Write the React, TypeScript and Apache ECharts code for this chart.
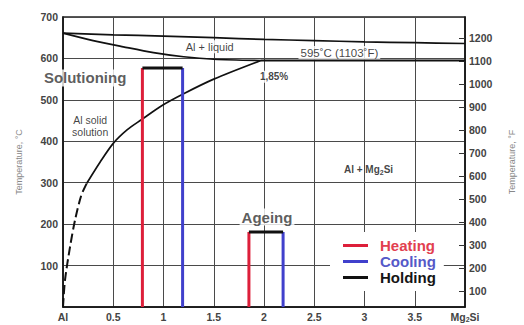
import React, { useEffect, useRef } from 'react';
import * as echarts from 'echarts';

const FONT = "'Liberation Sans', Arial, sans-serif";

// Axis tick labels
const xTickNames = ['Al', '0.5', '1', '1.5', '2', '2.5', '3', '3.5', 'Mg{s|2}Si'];
const tempFTicks = [100, 200, 300, 400, 500, 600, 700, 800, 900, 1000, 1100, 1200];

// Phase boundaries (x = % Mg2Si, T = °C)
const liquidusX = [0, 0.5, 1, 1.5, 2, 2.5, 3, 3.5, 4];
const liquidusT = [661, 657, 654, 650, 646, 643, 640, 638, 636];
const solidusX = [0, 0.3, 0.6, 0.9, 1.2, 1.5, 1.97];
const solidusT = [661, 643, 628, 614, 604, 598, 595];
const eutecticX = [1.97, 4];
const eutecticT = [595, 595];
// solvus: solid part (upper) and dashed part (lower)
const solvusX = [0.235, 0.37, 0.5, 0.64, 0.78, 0.99, 1.21, 1.5, 1.97];
const solvusT = [298, 350, 395, 428, 452, 487, 516, 550, 595];
const solvusDashX = [0, 0.02, 0.07, 0.12, 0.18, 0.235];
const solvusDashT = [0, 65, 145, 210, 268, 298];

// Heat-treatment steps
const solutionHeatX = 0.79;
const solutionCoolX = 1.19;
const solutionHoldT = 577;
const ageingHeatX = 1.85;
const ageingCoolX = 2.19;
const ageingHoldT = 181;

const RED = '#dd1f3a';
const BLUE = '#4040cc';

const notes = [
  { text: 'Al + liquid', x: 1.46, y: 628, size: 11, weight: 'normal', bg: true },
  { text: '595˚C (1103˚F)', x: 2.75, y: 613, size: 11.5, weight: 'normal', bg: true },
  { text: '1,85%', x: 2.1, y: 556, size: 10, weight: 'bold', bg: true },
  { text: 'Solutioning', x: 0.22, y: 553, size: 15, weight: 'bold', bg: true },
  { text: 'Al solid', x: 0.27, y: 452, size: 10.5, weight: 'normal', bg: false },
  { text: 'solution', x: 0.27, y: 423, size: 10.5, weight: 'normal', bg: false },
  { text: 'Al + Mg{s|2}Si', x: 3.04, y: 331, size: 10, weight: 'bold', bg: false },
  { text: 'Ageing', x: 2.03, y: 217, size: 15, weight: 'bold', bg: true },
];

const pts = (xs: number[], ts: number[]) => xs.map((x, i) => [x, ts[i]]);

const phaseLine = (xs: number[], ts: number[], extra: any = {}) => ({
  type: 'line',
  data: pts(xs, ts),
  smooth: extra.smooth !== undefined ? extra.smooth : 0.3,
  symbol: 'none',
  silent: true,
  z: 3,
  lineStyle: { color: '#111', width: 1.7, ...(extra.lineStyle || {}) },
});

const stepLine = (name: string, color: string, data: number[][]) => ({
  type: 'line',
  name,
  data,
  symbol: 'none',
  silent: true,
  z: 4,
  itemStyle: { color },
  lineStyle: { color, width: 3 },
});

export default function App() {
  const ref = useRef<HTMLDivElement>(null);

  useEffect(() => {
    document.body.style.margin = '0';
    if (!ref.current) return;
    const chart = echarts.init(ref.current, undefined, { renderer: 'svg' });

    const option: any = {
      animation: false,
      textStyle: { fontFamily: FONT },
      grid: {
        left: 63,
        right: 57,
        top: 17,
        bottom: 18,
        show: true,
        borderColor: '#222',
        borderWidth: 1.5,
      },
      legend: {
        data: [
          { name: 'Heating', textStyle: { color: '#e2404f' } },
          { name: 'Cooling', textStyle: { color: '#5559c8' } },
          { name: 'Holding', textStyle: { color: '#151515' } },
        ],
        orient: 'vertical',
        left: 330,
        top: 232,
        padding: [6, 8, 6, 13],
        backgroundColor: '#fff',
        icon: 'rect',
        itemWidth: 25,
        itemHeight: 3,
        itemGap: 1,
        selectedMode: false,
        textStyle: {
          fontSize: 15,
          fontWeight: 'bold',
          fontFamily: FONT,
          lineHeight: 15,
          padding: [0, 0, 0, 7],
        },
      },
      xAxis: {
        type: 'value',
        min: 0,
        max: 4,
        interval: 0.5,
        axisLine: { lineStyle: { color: '#111', width: 1.5 } },
        axisTick: { show: false },
        splitLine: { show: true, lineStyle: { color: '#4a4a4a', width: 1 } },
        axisLabel: {
          fontSize: 10.5,
          fontWeight: 'bold',
          color: '#444',
          margin: 4,
          formatter: (v: number) => xTickNames[Math.round(v * 2)] ?? '',
          rich: { s: { fontSize: 7, fontWeight: 'bold', color: '#444', padding: [5, 0, 0, 0] } },
        },
      },
      yAxis: [
        {
          type: 'value',
          min: 0,
          max: 700,
          interval: 100,
          name: 'Temperature, °C',
          nameLocation: 'middle',
          nameGap: 40,
          nameTextStyle: { fontSize: 9, color: '#888', fontFamily: FONT },
          axisLine: { show: true, lineStyle: { color: '#111', width: 1.5 } },
          axisTick: { show: false },
          splitLine: { show: true, lineStyle: { color: '#4a4a4a', width: 1 } },
          axisLabel: {
            fontSize: 10.5,
            fontWeight: 'bold',
            color: '#444',
            margin: 5,
            formatter: (v: number) => (v === 0 ? '' : String(v)),
          },
        },
        {
          type: 'value',
          position: 'right',
          min: 32,
          max: 1292,
          name: 'Temperature, °F',
          nameLocation: 'middle',
          nameGap: 42,
          nameTextStyle: { fontSize: 9, color: '#888', fontFamily: FONT },
          axisLine: { show: true, lineStyle: { color: '#111', width: 1.5 } },
          axisTick: {
            show: true,
            inside: true,
            length: 6,
            lineStyle: { color: '#333', width: 1 },
            customValues: tempFTicks,
          },
          splitLine: { show: false },
          axisLabel: {
            fontSize: 10.5,
            fontWeight: 'bold',
            color: '#444',
            margin: 4,
            customValues: tempFTicks,
            formatter: (v: number) => String(Math.round(v)),
          },
        },
      ],
      series: [
        phaseLine(liquidusX, liquidusT),
        phaseLine(solidusX, solidusT),
        phaseLine(eutecticX, eutecticT, { lineStyle: { width: 2.2 }, smooth: false }),
        phaseLine(solvusX, solvusT, { smooth: 0.3 }),
        phaseLine(solvusDashX, solvusDashT, { lineStyle: { type: [9, 4], width: 2 }, smooth: 0.3 }),
        stepLine('Heating', RED, [[solutionHeatX, 0], [solutionHeatX, solutionHoldT]]),
        stepLine('Heating', RED, [[ageingHeatX, 0], [ageingHeatX, ageingHoldT]]),
        stepLine('Cooling', BLUE, [[solutionCoolX, 0], [solutionCoolX, solutionHoldT]]),
        stepLine('Cooling', BLUE, [[ageingCoolX, 0], [ageingCoolX, ageingHoldT]]),
        stepLine('Holding', '#111', [[solutionHeatX, solutionHoldT], [solutionCoolX, solutionHoldT]]),
        stepLine('Holding', '#111', [[ageingHeatX, ageingHoldT], [ageingCoolX, ageingHoldT]]),
        {
          type: 'scatter',
          silent: true,
          symbolSize: 0,
          z: 1,
          data: notes.map((n) => ({
            value: [n.x, n.y],
            label: {
              show: true,
              position: 'inside',
              formatter: n.text,
              fontSize: n.size,
              fontWeight: n.weight,
              fontFamily: FONT,
              color: n.size > 12 ? '#333' : '#111',
              backgroundColor: n.bg ? '#fff' : 'transparent',
              padding: [1, 2],
              rich: { s: { fontSize: 7, fontWeight: 'bold', color: '#111', padding: [5, 0, 0, 0] } },
            },
          })),
        },
      ],
    };

    chart.setOption(option);
    return () => chart.dispose();
  }, []);

  return <div ref={ref} style={{ width: 524, height: 325 }} />;
}
